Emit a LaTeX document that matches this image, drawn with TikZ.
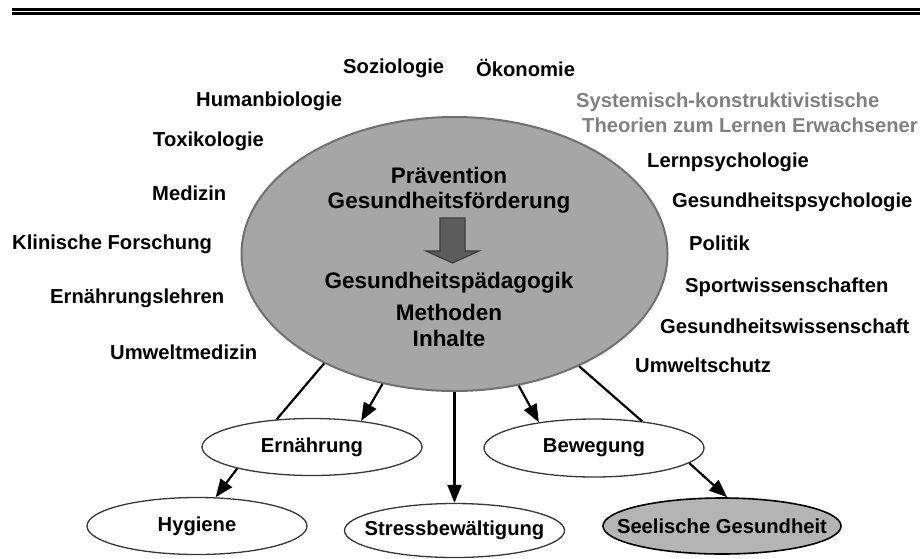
\documentclass[tikz,border=0pt]{standalone}
\usepackage{fontspec}
\setmainfont{Liberation Sans}
\usetikzlibrary{shapes.geometric,arrows.meta}

\definecolor{coregray}{RGB}{166,166,166}
\definecolor{coreedge}{RGB}{112,112,112}
\definecolor{pointerfill}{RGB}{92,92,92}
\definecolor{pointeredge}{RGB}{60,60,60}
\definecolor{soulgray}{RGB}{180,180,180}
\definecolor{theorygray}{RGB}{128,128,128}
\definecolor{ovaledge}{RGB}{55,55,55}

\begin{document}
\begin{tikzpicture}[x=1pt,y=-1pt,
  field/.style={font=\fontsize{20.2}{24}\selectfont\bfseries, inner sep=0pt, anchor=west},
  coretext/.style={font=\fontsize{22.5}{27}\selectfont\bfseries, inner sep=0pt},
  oval/.style={ellipse, draw=ovaledge, line width=1.3pt, fill=white, inner sep=0pt,
    minimum width=220pt, minimum height=57pt,
    label={[font=\fontsize{20.2}{24}\selectfont\bfseries, inner sep=0pt]center:#1}},
  conn/.style={line width=2.2pt, black},
  tip/.style={-{Triangle[length=18pt,width=14pt]}}
]
\useasboundingbox (0,0) rectangle (921,558);

% double rule across the top
\draw[line width=2.6pt] (12,9.3) -- (920,9.3);
\draw[line width=2.6pt] (12,13.5) -- (920,13.5);

% central ellipse
\node[ellipse, draw=coreedge, fill=coregray, line width=2pt, inner sep=0pt,
      minimum width=426pt, minimum height=274pt] (core) at (454.5,254) {};

\node[coretext] (prev) at (449,175) {Prävention};
\node[coretext] (gf)   at (449,203) {Gesundheitsförderung};
\node[coretext] (gp)   at (449,283) {Gesundheitspädagogik};
\node[coretext] (meth) at (449,312) {Methoden};
\node[coretext] (inh)  at (449,338) {Inhalte};

% block arrow between the two text groups
\draw[fill=pointerfill, draw=pointeredge, line width=1.2pt, line join=miter]
  (440,218) -- (465,218) -- (465,251) -- (479,251) -- (452.5,263)
  -- (426,251) -- (440,251) -- cycle;

% surrounding disciplines
\node[field] (soz)  at (343,68)  {Soziologie};
\node[field] (oek)  at (476,68)  {Ökonomie};
\node[field] (hum)  at (196,101) {Humanbiologie};
\node[field] (tox)  at (153,141) {Toxikologie};
\node[field] (med)  at (152,193) {Medizin};
\node[field] (klin) at (12,244)  {Klinische Forschung};
\node[field] (erl)  at (50,298)  {Ernährungslehren};
\node[field] (umed) at (110,352) {Umweltmedizin};

\node[field, text=theorygray] (sys) at (576,102) {Systemisch-konstruktivistische};
\node[field, text=theorygray] (the) at (582,125) {Theorien zum Lernen Erwachsener};
\node[field] (lern) at (647,162) {Lernpsychologie};
\node[field] (gpsy) at (672,202) {Gesundheitspsychologie};
\node[field] (pol)  at (689,243) {Politik};
\node[field] (sport) at (685,287) {Sportwissenschaften};
\node[field] (gw)   at (660,326) {Gesundheitswissenschaft};
\node[field] (uws)  at (635,365) {Umweltschutz};

% topic ovals
\node[oval={Ernährung}] (ern) at (312,447) {};
\node[oval={Hygiene}] (hyg) at (197,526) {};
\node[oval={Stressbewältigung}, minimum height=54pt] (stress) at (454.5,530.5) {};
\node[oval={Bewegung}, minimum height=58pt] (bew) at (594,448) {};
\node[oval={Seelische Gesundheit}, draw=black, fill=soulgray, line width=1.6pt,
      minimum width=238pt, minimum height=56pt] (seel) at (722,526) {};

% connectors
\draw[conn] (core.220) -- (ern.142);
\draw[conn, tip] (core.241) -- (ern.28);
\draw[conn, tip] (core.south) -- (stress.north);
\draw[conn, tip] (core.296) -- (bew.155);
\draw[conn] (core.318) -- (bew.29);
\draw[conn, tip] (ern.196) -- (hyg.57);
\draw[conn, tip] (bew.351) -- (seel.80);
\end{tikzpicture}
\end{document}
